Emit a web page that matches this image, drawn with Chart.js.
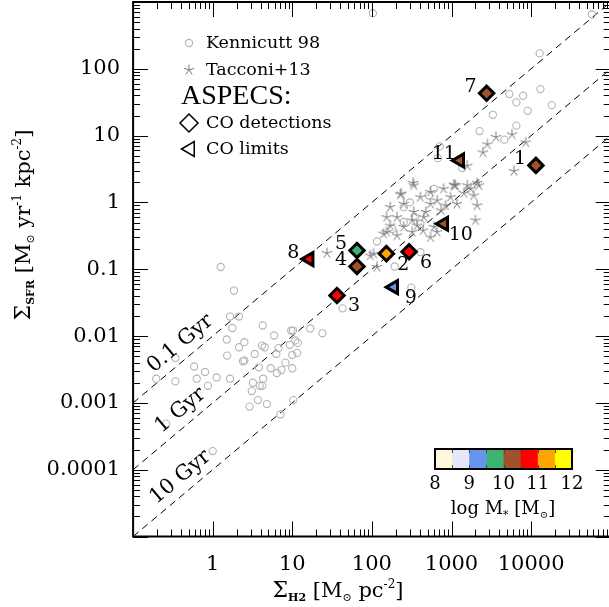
<!DOCTYPE html>
<html>
<head>
<meta charset="utf-8">
<script src="https://cdn.jsdelivr.net/npm/chart.js@4.4.0/dist/chart.umd.min.js"></script>
<style>
  html, body { margin: 0; padding: 0; overflow: hidden; background: #fff; }
  canvas { display: block; }
</style>
</head>
<body>
<canvas id="kschmidt" width="612" height="607"></canvas>
<script>
const SERIF = '"DejaVu Serif", serif';

// Kennicutt 98 (open circles)
const kennicuttX = [
  1.26, 1.85, 1.65, 2.14, 1.76, 1.50, 2.5, 2.14, 1.52, 4.25,
  5.9, 4.16, 4.5, 3.37, 2.5, 2.4, 6.7, 6.3, 9.7, 10.2,
  10.9, 11.7, 9.3, 10.0, 11.5, 8.2, 10.0, 7.3, 6.4, 5.35,
  3.8, 4.3, 3.9, 4.2, 3.2, 3.1, 3.7, 2.9, 4.8, 0.585,
  0.8, 0.63, 1.12, 1.65, 0.87, 0.34, 0.195, 0.34, 10.3, 7.1,
  0.26, 1.0, 16.8, 23.9, 42.7, 116, 193, 313, 407, 12800,
  13100, 18200, 5330, 7950, 6530, 9060, 3310, 6530, 2250, 4610,
  712, 672, 1364, 103, 57900, 520, 251, 251, 407, 300,
  600, 350, 180
];
const kennicuttY = [
  0.108, 0.048, 0.0196, 0.0196, 0.0132, 0.0089, 0.0081, 0.0068, 0.0051, 0.0144,
  0.0102, 0.0072, 0.0068, 0.0054, 0.0043, 0.0042, 0.0066, 0.0054, 0.0121, 0.0121,
  0.0086, 0.0079, 0.0074, 0.0052, 0.0056, 0.0040, 0.0033, 0.0031, 0.0028, 0.0033,
  0.0034, 0.0023, 0.0018, 0.0018, 0.0020, 0.0015, 0.0011, 0.00088, 0.00096, 0.0035,
  0.0029, 0.0023, 0.0024, 0.0023, 0.0018, 0.0047, 0.0023, 0.0021, 0.0011, 0.00067,
  0.00049, 0.00019, 0.013, 0.011, 0.026, 0.26, 0.11, 0.053, 0.18, 170,
  49.7, 28.6, 41.8, 39.6, 31.4, 23.5, 20.5, 14.1, 11.7, 8.7,
  6.9, 4.6, 3.26, 680, 650, 1.27, 0.85, 0.51, 0.48, 1.0,
  1.6, 0.6, 0.4
];

// Tacconi+13 (asterisks)
const tacconiX = [
  3610, 2820, 2480, 5750, 8560, 6090, 1577, 1095, 2210, 1740,
  329, 234, 1070, 335, 228, 544, 795, 1120, 1580, 2100,
  407, 661, 971, 1430, 1900, 544, 840, 1170, 251, 170,
  335, 475, 740, 207, 320, 450, 170, 251, 370, 600,
  2000, 140, 207, 320, 440, 660, 105, 116, 27.2, 95.5,
  2100, 153, 153, 544
];
const tacconiY = [
  9.5, 7.4, 5.6, 10.4, 7.9, 2.94, 3.54, 1.8, 1.8, 1.6,
  1.95, 1.35, 1.84, 1.8, 1.32, 1.43, 1.6, 1.8, 1.8, 1.95,
  1.2, 1.07, 1.2, 1.38, 1.27, 0.95, 0.9, 0.95, 0.95, 0.85,
  0.72, 0.72, 0.76, 0.6, 0.54, 0.6, 0.45, 0.43, 0.45, 0.43,
  0.54, 0.34, 0.32, 0.36, 0.38, 0.36, 0.17, 0.108, 0.174, 0.16,
  0.9, 0.6, 0.36, 0.3
];

// ASPECS sources
const aspecsId = ['1', '2', '3', '4', '5', '6', '7', '8', '9', '10', '11'];
const aspecsX = [11500, 152, 36.4, 65, 65, 293, 2760, 16.3, 188, 800, 1270];
const aspecsY = [3.58, 0.171, 0.0405, 0.110, 0.191, 0.183, 43, 0.142, 0.054, 0.48, 4.25];
const aspecsLogM = [10.3, 11.3, 10.8, 10.3, 9.8, 10.7, 10.2, 10.8, 9.3, 10.4, 10.4];
const aspecsLimit = [false, false, false, false, false, false, false, true, true, true, true];
const aspecsLabelSide = ['ul', 'lr', 'lr', 'ul', 'ul', 'lr', 'ul', 'ul', 'lr', 'lr', 'ul'];

// Depletion time lines
const depletionX = [0.1, 100000];
const depletion01Gyr = [0.001, 1000];
const depletion1Gyr = [0.0001, 100];
const depletion10Gyr = [0.00001, 10];
const depletionLabels = ['0.1 Gyr', '1 Gyr', '10 Gyr'];

// Stellar mass colour bins
const massMin = 8;
const massStep = 0.5;
const massColors = ['#fff8dc', '#e6e6fa', '#6495ed', '#3cb371', '#a0522d', '#ff0000', '#ffa500', '#ffff00'];
const massTickLabels = ['8', '9', '10', '11', '12'];

// Axis tick labels
const xTickLabels = ['1', '10', '100', '1000', '10000'];
const yTickLabels = ['0.0001', '0.001', '0.01', '0.1', '1', '10', '100'];

// helpers
function massColor(m) {
  const i = Math.max(0, Math.min(massColors.length - 1, Math.floor((m - massMin) / massStep)));
  return massColors[i];
}

function makeAsterisk(arm, color) {
  const c = document.createElement('canvas');
  c.width = c.height = Math.ceil(arm * 2 + 3);
  const g = c.getContext('2d');
  const mid = c.width / 2;
  g.strokeStyle = color;
  g.lineWidth = 1;
  g.beginPath();
  for (let i = 0; i < 5; i++) {
    const a = -Math.PI / 2 + i * 2 * Math.PI / 5;
    g.moveTo(mid, mid);
    g.lineTo(mid + arm * Math.cos(a), mid + arm * Math.sin(a));
  }
  g.stroke();
  return c;
}
const asterisk = makeAsterisk(5.5, '#7a7a7a');

// draws [text, size, dy, bold] pieces on one baseline
function richText(ctx, parts, x, y, align) {
  let w = 0;
  parts.forEach(p => {
    ctx.font = (p[3] ? 'bold ' : '') + p[1] + 'px ' + SERIF;
    w += ctx.measureText(p[0]).width;
  });
  let cx = align === 'center' ? x - w / 2 : x;
  ctx.textAlign = 'left';
  ctx.textBaseline = 'alphabetic';
  parts.forEach(p => {
    ctx.font = (p[3] ? 'bold ' : '') + p[1] + 'px ' + SERIF;
    ctx.fillText(p[0], cx, y + (p[2] || 0));
    cx += ctx.measureText(p[0]).width;
  });
}

function pts(xs, ys) {
  return xs.map((x, i) => ({ x, y: ys[i] }));
}

// Decorations: frame, inward ticks, labels, legend, colour bar
const decor = {
  id: 'decor',
  afterDatasetsDraw(chart) {
    const ctx = chart.ctx;
    const xs = chart.scales.x, ys = chart.scales.y;
    const a = chart.chartArea;

    // depletion line labels, written along each line
    const lines = [depletion01Gyr, depletion1Gyr, depletion10Gyr];
    ctx.save();
    ctx.beginPath();
    ctx.rect(a.left, a.top, a.right - a.left, a.bottom - a.top);
    ctx.clip();
    lines.forEach((ln, k) => {
      const x0 = xs.getPixelForValue(depletionX[0]), y0 = ys.getPixelForValue(ln[0]);
      const x1 = xs.getPixelForValue(depletionX[1]), y1 = ys.getPixelForValue(ln[1]);
      const ang = Math.atan2(y1 - y0, x1 - x0);
      const px = 190;
      const py = y0 + (px - x0) * (y1 - y0) / (x1 - x0);
      ctx.save();
      ctx.translate(px, py);
      ctx.rotate(ang);
      ctx.fillStyle = '#000';
      ctx.font = '21px ' + SERIF;
      ctx.textAlign = 'center';
      ctx.textBaseline = 'middle';
      ctx.fillText(depletionLabels[k], 0, -15);
      ctx.restore();
    });
    ctx.restore();

    // ASPECS id labels
    const offs = { ul: [-16, -6], lr: [17, 11] };
    ctx.save();
    ctx.fillStyle = '#000';
    ctx.font = '19px ' + SERIF;
    ctx.textAlign = 'center';
    ctx.textBaseline = 'middle';
    aspecsId.forEach((id, i) => {
      const px = xs.getPixelForValue(aspecsX[i]);
      const py = ys.getPixelForValue(aspecsY[i]);
      const o = offs[aspecsLabelSide[i]];
      ctx.fillText(id, px + o[0], py + o[1]);
    });
    ctx.restore();
  },
  afterDraw(chart) {
    const ctx = chart.ctx;
    const xs = chart.scales.x, ys = chart.scales.y;
    const a = chart.chartArea;
    ctx.save();

    // inward ticks on all four sides
    ctx.strokeStyle = '#000';
    ctx.lineWidth = 1;
    ctx.beginPath();
    [[xs, true], [ys, false]].forEach(([s, horiz]) => {
      const lo = Math.floor(Math.log10(s.min)), hi = Math.ceil(Math.log10(s.max));
      for (let e = lo; e <= hi; e++) {
        for (let m = 1; m < 10; m++) {
          const v = m * Math.pow(10, e);
          if (v < s.min * 0.999 || v > s.max * 1.001) continue;
          const p = Math.round(s.getPixelForValue(v)) + 0.5;
          const len = m === 1 ? 15 : 7;
          if (horiz) {
            ctx.moveTo(p, a.bottom); ctx.lineTo(p, a.bottom - len);
            ctx.moveTo(p, a.top); ctx.lineTo(p, a.top + len);
          } else {
            ctx.moveTo(a.left, p); ctx.lineTo(a.left + len, p);
            ctx.moveTo(a.right, p); ctx.lineTo(a.right - len, p);
          }
        }
      }
    });
    ctx.stroke();

    // frame
    ctx.lineWidth = 2;
    ctx.strokeRect(a.left, a.top, a.right - a.left, a.bottom - a.top);

    // tick labels
    ctx.fillStyle = '#000';
    ctx.font = '21px ' + SERIF;
    ctx.textBaseline = 'middle';
    ctx.textAlign = 'center';
    xTickLabels.forEach(t => ctx.fillText(t, xs.getPixelForValue(Number(t)), 565));
    ctx.textAlign = 'right';
    yTickLabels.forEach(t => ctx.fillText(t, 120, ys.getPixelForValue(Number(t))));

    // axis titles
    richText(ctx, [['\u03A3', 22], ['H2', 11, 4, true], [' [M', 21], ['\u2299', 11, 4], [' pc', 21], ['-2', 12, -9], [']', 21]],
      338, 597, 'center');
    ctx.save();
    ctx.translate(30, 225);
    ctx.rotate(-Math.PI / 2);
    richText(ctx, [['\u03A3', 22], ['SFR', 11, 4, true], [' [M', 21], ['\u2299', 11, 4], [' yr', 21], ['-1', 12, -9],
      [' kpc', 21], ['-2', 12, -9], [']', 21]], 0, 0, 'center');
    ctx.restore();

    // legend
    const H = Chart.helpers;
    ctx.lineWidth = 1.1;
    ctx.strokeStyle = '#b4b4b4';
    ctx.fillStyle = 'rgba(0,0,0,0)';
    H.drawPoint(ctx, { pointStyle: 'circle', radius: 3.6, borderWidth: 1.1 }, 189, 43);
    H.drawPoint(ctx, { pointStyle: asterisk, radius: 6 }, 189, 70);
    ctx.strokeStyle = '#000';
    ctx.lineWidth = 1.5;
    H.drawPoint(ctx, { pointStyle: 'rectRot', radius: 9, borderWidth: 1.5 }, 189, 123);
    H.drawPoint(ctx, { pointStyle: 'triangle', rotation: -90, radius: 8.5, borderWidth: 1.5 }, 190, 149);
    ctx.fillStyle = '#000';
    ctx.textAlign = 'left';
    ctx.textBaseline = 'middle';
    ctx.font = '17.5px ' + SERIF;
    ctx.fillText('Kennicutt 98', 206, 43);
    ctx.fillText('Tacconi+13', 206, 70);
    ctx.fillText('CO detections', 206, 123);
    ctx.fillText('CO limits', 206, 149);
    ctx.font = '28px "Liberation Serif", serif';
    ctx.fillText('ASPECS:', 181, 97);

    // colour bar
    const cb = { x: 435, y: 449, w: 137, h: 20 };
    const cw = cb.w / massColors.length;
    massColors.forEach((c, i) => {
      ctx.fillStyle = c;
      ctx.fillRect(cb.x + i * cw, cb.y, cw + 0.5, cb.h);
    });
    ctx.strokeStyle = '#444';
    ctx.lineWidth = 1;
    ctx.beginPath();
    for (let i = 1; i < massColors.length; i++) {
      const px = Math.round(cb.x + i * cw) + 0.5;
      ctx.moveTo(px, cb.y); ctx.lineTo(px, cb.y + 4);
      ctx.moveTo(px, cb.y + cb.h); ctx.lineTo(px, cb.y + cb.h - 4);
    }
    ctx.stroke();
    ctx.strokeStyle = '#000';
    ctx.lineWidth = 2;
    ctx.strokeRect(cb.x, cb.y, cb.w, cb.h);
    ctx.fillStyle = '#000';
    ctx.font = '18px ' + SERIF;
    ctx.textAlign = 'center';
    ctx.textBaseline = 'middle';
    const mSpan = massColors.length * massStep;
    massTickLabels.forEach(t => {
      ctx.fillText(t, cb.x + (Number(t) - massMin) / mSpan * cb.w, 484);
    });
    richText(ctx, [['log M', 18], ['*', 11, 4], [' [M', 18], ['\u2299', 10, 4], [']', 18]], 503, 514, 'center');

    ctx.restore();
  }
};

const detIdx = aspecsId.map((_, i) => i).filter(i => !aspecsLimit[i]);
const limIdx = aspecsId.map((_, i) => i).filter(i => aspecsLimit[i]);

const lineStyle = { showLine: true, borderColor: '#000', borderWidth: 1, borderDash: [7, 5], pointRadius: 0, clip: 0, order: 5 };

new Chart(document.getElementById('kschmidt'), {
  type: 'scatter',
  data: {
    datasets: [
      { label: '0.1 Gyr', data: pts(depletionX, depletion01Gyr), ...lineStyle },
      { label: '1 Gyr', data: pts(depletionX, depletion1Gyr), ...lineStyle },
      { label: '10 Gyr', data: pts(depletionX, depletion10Gyr), ...lineStyle },
      {
        label: 'Kennicutt 98', data: pts(kennicuttX, kennicuttY), order: 4, clip: 0,
        pointStyle: 'circle', pointRadius: 3.6, borderWidth: 1.1,
        borderColor: '#b4b4b4', backgroundColor: 'rgba(0,0,0,0)'
      },
      {
        label: 'Tacconi+13', data: pts(tacconiX, tacconiY), order: 3, clip: 0,
        pointStyle: asterisk, pointRadius: 6
      },
      {
        label: 'CO limits', data: limIdx.map(i => ({ x: aspecsX[i], y: aspecsY[i] })), order: 2, clip: 0,
        pointStyle: 'triangle', rotation: -90, pointRadius: 7.5, borderWidth: 3, borderColor: '#000',
        backgroundColor: limIdx.map(i => massColor(aspecsLogM[i]))
      },
      {
        label: 'CO detections', data: detIdx.map(i => ({ x: aspecsX[i], y: aspecsY[i] })), order: 1, clip: 0,
        pointStyle: 'rectRot', pointRadius: 7.2, borderWidth: 3, borderColor: '#000',
        backgroundColor: detIdx.map(i => massColor(aspecsLogM[i]))
      }
    ]
  },
  options: {
    responsive: false,
    animation: false,
    layout: { autoPadding: false, padding: { top: 2, right: 1.3, left: 0, bottom: 0 } },
    plugins: { legend: { display: false }, tooltip: { enabled: false } },
    scales: {
      x: {
        type: 'logarithmic', position: 'bottom', min: 0.1, max: 100000,
        grid: { display: false, drawTicks: false }, border: { display: false },
        ticks: { display: false },
        afterFit: s => { s.height = 70.5; }
      },
      y: {
        type: 'logarithmic', position: 'left', min: 0.00001, max: 1000,
        grid: { display: false, drawTicks: false }, border: { display: false },
        ticks: { display: false },
        afterFit: s => { s.width = 133.1; }
      }
    }
  },
  plugins: [decor]
});
</script>
</body>
</html>
